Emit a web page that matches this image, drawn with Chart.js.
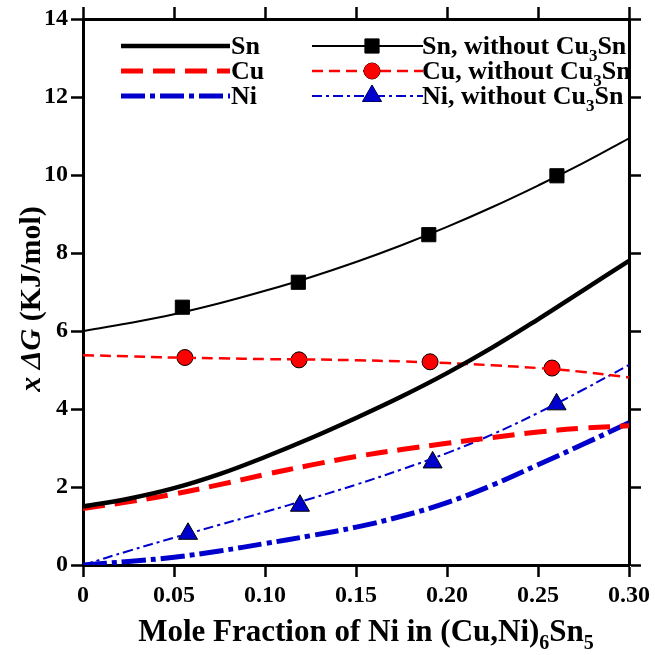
<!DOCTYPE html>
<html>
<head>
<meta charset="utf-8">
<script src="https://cdn.jsdelivr.net/npm/chart.js@4.4.1/dist/chart.umd.min.js"></script>
<style>
  html, body { margin: 0; padding: 0; background: #fff; }
  #wrap { width: 655px; height: 655px; }
</style>
</head>
<body>
<div id="wrap"><canvas id="gibbsChart" width="655" height="655"></canvas></div>
<script>
const curveX = [0, 0.025, 0.05, 0.075, 0.1, 0.125, 0.15, 0.175, 0.2, 0.225, 0.25, 0.275, 0.3];

// with Cu3Sn
const snCurve = [1.50, 1.70, 1.97, 2.33, 2.77, 3.25, 3.77, 4.32, 4.92, 5.58, 6.30, 7.05, 7.80];
const cuCurve = [1.45, 1.62, 1.82, 2.06, 2.32, 2.56, 2.78, 2.96, 3.12, 3.27, 3.41, 3.51, 3.57];
const niCurve = [0.00, 0.09, 0.20, 0.36, 0.55, 0.75, 0.97, 1.25, 1.60, 2.05, 2.57, 3.10, 3.65];

// without Cu3Sn
const snNoCurve = [6.00, 6.20, 6.43, 6.71, 7.03, 7.38, 7.77, 8.20, 8.67, 9.18, 9.73, 10.31, 10.94];
const cuNoCurve = [5.38, 5.35, 5.32, 5.30, 5.28, 5.27, 5.25, 5.22, 5.18, 5.12, 5.05, 4.95, 4.81];
const niNoCurve = [0.00, 0.36, 0.70, 1.03, 1.36, 1.70, 2.06, 2.45, 2.87, 3.35, 3.90, 4.50, 5.13];

// symbols (without Cu3Sn)
const snPtsX = [0.0546, 0.1183, 0.1900, 0.2604];
const snPtsY = [6.61, 7.25, 8.47, 9.98];
const cuPtsX = [0.0560, 0.1187, 0.1907, 0.2577];
const cuPtsY = [5.32, 5.26, 5.21, 5.05];
const niPtsX = [0.0577, 0.1192, 0.1921, 0.2602];
const niPtsY = [0.80, 1.52, 2.63, 4.12];

const legendLeft = ['Sn', 'Cu', 'Ni'];
const legendRight = ['Sn, without Cu_3Sn', 'Cu, without Cu_3Sn', 'Ni, without Cu_3Sn'];

const xTicks = [0, 0.05, 0.10, 0.15, 0.20, 0.25, 0.30];
const yTicks = [0, 2, 4, 6, 8, 10, 12, 14];

const FONT = '"Liberation Serif", "Times New Roman", serif';
const BLACK = '#000000', RED = '#ff0000', BLUE = '#0000cc';

const xy = (xs, ys) => xs.map((x, i) => ({ x: x, y: ys[i] }));

function curve(ys, color, width, dash) {
    return {
        type: 'line',
        data: xy(curveX, ys),
        borderColor: color,
        borderWidth: width,
        borderDash: dash,
        pointRadius: 0,
        fill: false,
        tension: 0.4
    };
}

function symbols(xs, ys, style, radius, fill) {
    return {
        type: 'scatter',
        data: xy(xs, ys),
        pointStyle: style,
        pointRadius: radius,
        pointBackgroundColor: fill,
        pointBorderColor: BLACK,
        pointBorderWidth: 1,
        showLine: false
    };
}

const datasets = [
    curve(snCurve, BLACK, 4.5, []),
    curve(cuCurve, RED, 5, [22, 10]),
    curve(niCurve, BLUE, 5, [24, 5, 5, 5]),
    curve(snNoCurve, BLACK, 2, []),
    curve(cuNoCurve, RED, 2.5, [11, 6]),
    curve(niNoCurve, BLUE, 2, [10, 4, 3, 4]),
    symbols(snPtsX, snPtsY, 'rect', 10, BLACK),
    symbols(cuPtsX, cuPtsY, 'circle', 8, RED),
    symbols(niPtsX, niPtsY, 'triangle', 11, BLUE)
];

// text with "_n" subscripts, optional italic pieces
function drawRich(ctx, parts, x, y, size) {
    let cx = x;
    parts.forEach(p => {
        const s = p.sub ? Math.round(size * 0.65) : size;
        ctx.font = (p.italic ? 'italic ' : '') + 'bold ' + s + 'px ' + FONT;
        ctx.fillText(p.text, cx, p.sub ? y + size * 0.25 : y);
        cx += ctx.measureText(p.text).width;
    });
    return cx - x;
}

function richWidth(ctx, parts, size) {
    let w = 0;
    parts.forEach(p => {
        const s = p.sub ? Math.round(size * 0.65) : size;
        ctx.font = (p.italic ? 'italic ' : '') + 'bold ' + s + 'px ' + FONT;
        w += ctx.measureText(p.text).width;
    });
    return w;
}

function parseLabel(str) {
    return str.split(/_(\d)/).map((t, i) => ({ text: t, sub: i % 2 === 1 }));
}

const figureText = {
    id: 'figureText',
    afterDraw(chart) {
        const ctx = chart.ctx;
        ctx.save();
        ctx.fillStyle = BLACK;
        ctx.textBaseline = 'alphabetic';
        ctx.textAlign = 'left';

        // x axis title
        const xParts = parseLabel('Mole Fraction of Ni in (Cu,Ni)_6Sn_5');
        const xw = richWidth(ctx, xParts, 31);
        drawRich(ctx, xParts, 366 - xw / 2, 641, 31);

        // y axis title
        const yParts = [
            { text: 'x', italic: true }, { text: ' ' }, { text: '\u0394G', italic: true }, { text: ' (KJ/mol)' }
        ];
        const yw = richWidth(ctx, yParts, 30);
        ctx.save();
        ctx.translate(40, 299 + yw / 2);
        ctx.rotate(-Math.PI / 2);
        drawRich(ctx, yParts, 0, 0, 30);
        ctx.restore();

        // legend
        const rows = [46, 71, 96];
        rows.forEach((ry, i) => {
            const thick = chart.data.datasets[i];
            const thin = chart.data.datasets[i + 3];
            const sym = chart.data.datasets[i + 6];

            ctx.lineCap = 'butt';
            ctx.strokeStyle = thick.borderColor;
            ctx.lineWidth = thick.borderWidth;
            ctx.setLineDash(thick.borderDash);
            ctx.beginPath();
            ctx.moveTo(121, ry);
            ctx.lineTo(230, ry);
            ctx.stroke();

            ctx.strokeStyle = thin.borderColor;
            ctx.lineWidth = thin.borderWidth;
            ctx.setLineDash(thin.borderDash);
            ctx.beginPath();
            ctx.moveTo(312, ry);
            ctx.lineTo(423, ry);
            ctx.stroke();
            ctx.setLineDash([]);

            ctx.fillStyle = sym.pointBackgroundColor;
            ctx.strokeStyle = BLACK;
            ctx.lineWidth = 1;
            Chart.helpers.drawPoint(ctx, {
                pointStyle: sym.pointStyle, radius: sym.pointRadius, rotation: 0, borderWidth: 1
            }, 372, ry);
            ctx.fill();

            ctx.fillStyle = BLACK;
            drawRich(ctx, parseLabel(legendLeft[i]), 231, ry + 8, 26);
            drawRich(ctx, parseLabel(legendRight[i]), 422, ry + 8, 26);
        });
        ctx.restore();
    }
};

const tickFont = { family: FONT, size: 24, weight: 'bold' };
const frame = { display: true, color: BLACK, width: 3 };
const marks = { drawOnChartArea: false, drawTicks: true, tickLength: 12, tickWidth: 2.5, tickColor: BLACK, color: BLACK };

new Chart(document.getElementById('gibbsChart').getContext('2d'), {
    type: 'line',
    data: { datasets: datasets },
    options: {
        responsive: false,
        animation: false,
        devicePixelRatio: 1,
        layout: { padding: 0 },
        plugins: { legend: { display: false }, tooltip: { enabled: false } },
        scales: {
            x: {
                type: 'linear', position: 'bottom', min: 0, max: 0.3,
                afterBuildTicks: s => { s.ticks = xTicks.map(v => ({ value: v })); },
                ticks: {
                    font: tickFont, color: BLACK, padding: 4, maxRotation: 0,
                    callback: v => v === 0 ? '0' : v.toFixed(2)
                },
                grid: marks, border: frame,
                afterFit: s => { s.height = 90; }
            },
            xTop: {
                type: 'linear', position: 'top', min: 0, max: 0.3,
                afterBuildTicks: s => { s.ticks = xTicks.map(v => ({ value: v })); },
                ticks: { display: false },
                grid: marks, border: frame,
                afterFit: s => { s.height = 19; }
            },
            y: {
                type: 'linear', position: 'left', min: 0, max: 14,
                afterBuildTicks: s => { s.ticks = yTicks.map(v => ({ value: v })); },
                ticks: { font: tickFont, color: BLACK, padding: 3 },
                grid: marks, border: frame,
                afterFit: s => { s.width = 83; }
            },
            yRight: {
                type: 'linear', position: 'right', min: 0, max: 14,
                afterBuildTicks: s => { s.ticks = yTicks.map(v => ({ value: v })); },
                ticks: { display: false },
                grid: marks, border: frame,
                afterFit: s => { s.width = 26; }
            }
        }
    },
    plugins: [figureText]
});
</script>
</body>
</html>
